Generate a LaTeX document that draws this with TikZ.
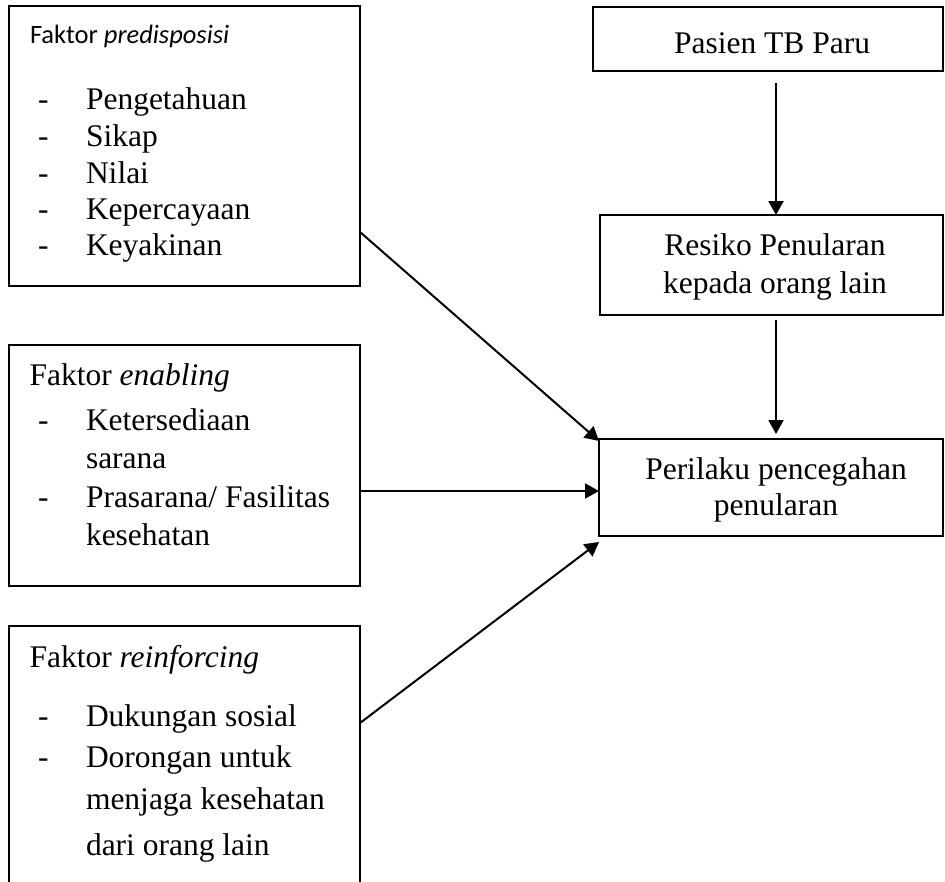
\documentclass[tikz,border=0pt]{standalone}
\usepackage{fontspec}
\setmainfont{Liberation Serif}
\newfontfamily\calfont{Carlito}
\usetikzlibrary{arrows.meta}
\tikzset{
  box/.style={draw, line width=2pt, inner sep=0pt, outer sep=0pt, anchor=north west},
  openbox/.style={inner sep=0pt, outer sep=0pt, anchor=north west},
  txt/.style={inner sep=0pt, outer sep=0pt, anchor=base west, font=\fontsize{31.5}{36}\selectfont},
  ctxt/.style={inner sep=0pt, outer sep=0pt, anchor=base, font=\fontsize{31.5}{36}\selectfont},
  sanstxt/.style={inner sep=0pt, outer sep=0pt, anchor=base west, font=\calfont\fontsize{26.5}{32}\selectfont},
  arr/.style={line width=2pt, -{Triangle[length=14pt,width=15pt]}}
}
\begin{document}
\begin{tikzpicture}[x=1pt,y=-1pt]
\useasboundingbox (0,0) rectangle (945,881);
% left boxes
\node[box, minimum width=351pt, minimum height=280pt] (b1) at (9,6) {};
\node[box, minimum width=351pt, minimum height=241pt] (b2) at (9,345) {};
\node[openbox, minimum width=351pt, minimum height=264pt] (b3) at (9,626) {};
\draw[line width=2pt] (b3.south west) -- (b3.north west) -- (b3.north east) -- (b3.south east);
% right boxes
\node[box, minimum width=350pt, minimum height=64pt] (p) at (593,7) {};
\node[box, minimum width=343pt, minimum height=100pt] (r) at (600,215) {};
\node[box, minimum width=344pt, minimum height=97pt] (q) at (599,439) {};
% box 1 text
\node[sanstxt] (t1) at (30,43) {Faktor \textit{predisposisi}};
\node[txt] (d11) at (38,109) {-};
\node[txt] (i11) at (86,109) {Pengetahuan};
\node[txt] (d12) at (38,146) {-};
\node[txt] (i12) at (86,146) {Sikap};
\node[txt] (d13) at (38,183) {-};
\node[txt] (i13) at (86,183) {Nilai};
\node[txt] (d14) at (38,219) {-};
\node[txt] (i14) at (86,219) {Kepercayaan};
\node[txt] (d15) at (38,255) {-};
\node[txt] (i15) at (86,255) {Keyakinan};
% box 2 text
\node[txt] (t2) at (29.5,385) {Faktor \textit{enabling}};
\node[txt] (d21) at (38,430) {-};
\node[txt] (i21) at (86,430) {Ketersediaan};
\node[txt] (i22) at (86,468) {sarana};
\node[txt] (d23) at (38,507) {-};
\node[txt] (i23) at (86,507) {Prasarana/ Fasilitas};
\node[txt] (i24) at (86,545) {kesehatan};
% box 3 text
\node[txt] (t3) at (29.5,667) {Faktor \textit{reinforcing}};
\node[txt] (d31) at (38,726) {-};
\node[txt] (i31) at (86,726) {Dukungan sosial};
\node[txt] (d32) at (38,767) {-};
\node[txt] (i32) at (86,767) {Dorongan untuk};
\node[txt] (i33) at (86,809) {menjaga kesehatan};
\node[txt] (i34) at (86,855) {dari orang lain};
% right texts
\node[ctxt] (tp) at (772,53) {Pasien TB Paru};
\node[ctxt] (tr1) at (775,255) {Resiko Penularan};
\node[ctxt] (tr2) at (775,293) {kepada orang lain};
\node[ctxt] (tq1) at (776,479) {Perilaku pencegahan};
\node[ctxt] (tq2) at (776,515) {penularan};
% connectors
\coordinate (ax) at (776,0);
\coordinate (a1s) at (776,83);
\coordinate (a2s) at (776,320);
\coordinate (a2e) at (776,434);
\draw[arr] (a1s) -- (r.north -| ax);
\draw[arr] (a2s) -- (a2e);
\coordinate (e1) at (360,232);
\coordinate (e1t) at (599,441);
\draw[arr] (e1) -- (e1t);
\coordinate (e2) at (360,491);
\draw[arr] (e2) -- (q.west |- e2);
\coordinate (e3) at (360,723);
\coordinate (e3t) at (599,542);
\draw[arr] (e3) -- (e3t);
\end{tikzpicture}
\end{document}
